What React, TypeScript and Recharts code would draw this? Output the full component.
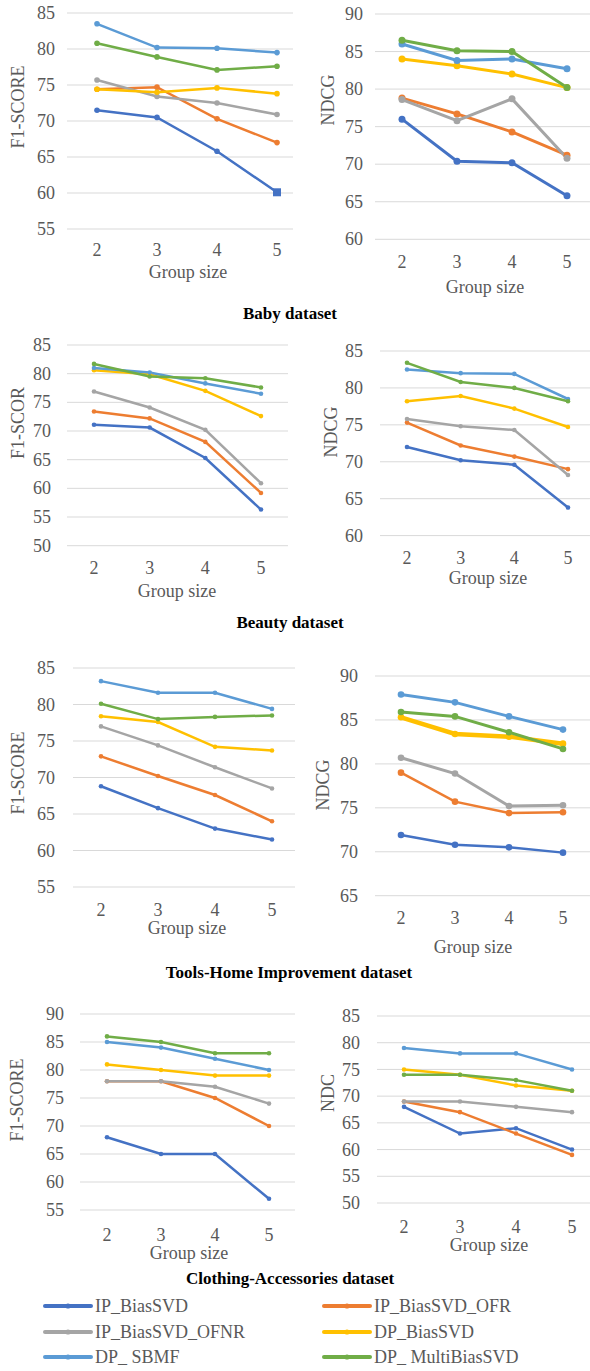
import { LineChart, Line, XAxis, YAxis, CartesianGrid } from "recharts";

const groupSizes = ["2", "3", "4", "5"];
const seriesNames = ["IP_BiasSVD", "IP_BiasSVD_OFR", "IP_BiasSVD_OFNR", "DP_BiasSVD", "DP_ SBMF", "DP_ MultiBiasSVD"];
const colors = ["#4472C4", "#ED7D31", "#A5A5A5", "#FFC000", "#5B9BD5", "#70AD47"];

// rows follow seriesNames order, columns follow groupSizes
const babyF1 = [
  [71.5, 70.5, 65.8, 60.1],
  [74.4, 74.7, 70.3, 67.0],
  [75.7, 73.4, 72.5, 70.9],
  [74.4, 74.0, 74.6, 73.8],
  [83.5, 80.2, 80.1, 79.5],
  [80.8, 78.9, 77.1, 77.6],
];
const babyNdcg = [
  [76.0, 70.4, 70.2, 65.8],
  [78.8, 76.7, 74.3, 71.2],
  [78.6, 75.8, 78.7, 70.8],
  [84.0, 83.1, 82.0, 80.2],
  [86.0, 83.8, 84.0, 82.7],
  [86.5, 85.1, 85.0, 80.2],
];
const beautyF1 = [
  [71.1, 70.6, 65.3, 56.3],
  [73.4, 72.2, 68.1, 59.2],
  [76.9, 74.1, 70.2, 60.9],
  [80.6, 79.9, 77.0, 72.6],
  [81.0, 80.2, 78.3, 76.5],
  [81.7, 79.5, 79.2, 77.6],
];
const beautyNdcg = [
  [72.0, 70.2, 69.6, 63.8],
  [75.3, 72.2, 70.7, 69.0],
  [75.8, 74.8, 74.3, 68.2],
  [78.2, 78.9, 77.2, 74.7],
  [82.5, 82.0, 81.9, 78.5],
  [83.4, 80.8, 80.0, 78.2],
];
const toolsF1 = [
  [68.8, 65.8, 63.0, 61.5],
  [72.9, 70.2, 67.6, 64.0],
  [77.0, 74.4, 71.4, 68.5],
  [78.4, 77.6, 74.2, 73.7],
  [83.2, 81.6, 81.6, 79.4],
  [80.1, 78.0, 78.3, 78.5],
];
const toolsNdcg = [
  [71.9, 70.8, 70.5, 69.9],
  [79.0, 75.7, 74.4, 74.5],
  [80.7, 78.9, 75.2, 75.3],
  [85.3, 83.4, 83.1, 82.3],
  [87.9, 87.0, 85.4, 83.9],
  [85.9, 85.4, 83.6, 81.7],
];
const clothingF1 = [
  [68, 65, 65, 57],
  [78, 78, 75, 70],
  [78, 78, 77, 74],
  [81, 80, 79, 79],
  [85, 84, 82, 80],
  [86, 85, 83, 83],
];
const clothingNdcg = [
  [68, 63, 64, 60],
  [69, 67, 63, 59],
  [69, 69, 68, 67],
  [75, 74, 72, 71],
  [79, 78, 78, 75],
  [74, 74, 73, 71],
];

const ticks55to85 = [55, 60, 65, 70, 75, 80, 85];
const ticks60to90 = [60, 65, 70, 75, 80, 85, 90];
const ticks50to85 = [50, 55, 60, 65, 70, 75, 80, 85];
const ticks60to85 = [60, 65, 70, 75, 80, 85];
const ticks65to90 = [65, 70, 75, 80, 85, 90];
const ticks55to90 = [55, 60, 65, 70, 75, 80, 85, 90];

const datasetTitles = ["Baby dataset", "Beauty dataset", "Tools-Home Improvement dataset", "Clothing-Accessories dataset"];

const FONT = '"Liberation Serif", "Times New Roman", serif';
const GRAY = "#595959";

type PanelCfg = {
  values: number[][];
  ticks: number[];
  yLabel: string;
  col: number;
  left: number;
  right: number;
  top: number;
  bottom: number;
  padL: number;
  padR: number;
  yGap: number;
  xGap: number;
  labelX: number;
  labelY: number;
  groupX: number;
  groupY: number;
  dotR: number;
  lw: number;
  widths?: number[];
  squareAt?: number;
};

const panels: PanelCfg[] = [
  { values: babyF1, ticks: ticks55to85, yLabel: "F1-SCORE", col: 0, left: 67, right: 293, top: 13.3, bottom: 229.3, padL: 30, padR: 16, yGap: 12, xGap: 14, labelX: 18, labelY: 107, groupX: 188, groupY: 272, dotR: 2.8, lw: 2.5, squareAt: 3 },
  { values: babyNdcg, ticks: ticks60to90, yLabel: "NDCG", col: 1, left: 375, right: 590, top: 14, bottom: 239.3, padL: 27, padR: 23, yGap: 12, xGap: 16, labelX: 328, labelY: 100, groupX: 485, groupY: 287, dotR: 3.5, lw: 3 },
  { values: beautyF1, ticks: ticks50to85, yLabel: "F1-SCOR", col: 0, left: 67, right: 288, top: 345, bottom: 545.7, padL: 27, padR: 27, yGap: 16, xGap: 15.5, labelX: 18, labelY: 423, groupX: 177, groupY: 591, dotR: 2.3, lw: 2.5 },
  { values: beautyNdcg, ticks: ticks60to85, yLabel: "NDCG", col: 1, left: 380, right: 590, top: 350.7, bottom: 535.3, padL: 27, padR: 22, yGap: 17, xGap: 16, labelX: 331, labelY: 432, groupX: 488, groupY: 578, dotR: 2.3, lw: 2.5 },
  { values: toolsF1, ticks: ticks55to85, yLabel: "F1-SCORE", col: 0, left: 73, right: 295, top: 667.7, bottom: 886.7, padL: 28, padR: 23, yGap: 18, xGap: 16.5, labelX: 18, labelY: 773, groupX: 187, groupY: 928, dotR: 2.3, lw: 2.5 },
  { values: toolsNdcg, ticks: ticks65to90, yLabel: "NDCG", col: 1, left: 375, right: 590, top: 676, bottom: 895.7, padL: 26, padR: 27, yGap: 17, xGap: 15.5, labelX: 323, labelY: 785, groupX: 473, groupY: 947, dotR: 3.3, lw: 2.5, widths: [2.5, 2.5, 3, 4.5, 3, 3] },
  { values: clothingF1, ticks: ticks55to90, yLabel: "F1-SCORE", col: 0, left: 80, right: 295, top: 1014, bottom: 1210, padL: 27, padR: 26, yGap: 16, xGap: 18, labelX: 17, labelY: 1100, groupX: 189, groupY: 1253, dotR: 2.3, lw: 2.5 },
  { values: clothingNdcg, ticks: ticks50to85, yLabel: "NDC", col: 1, left: 377, right: 590, top: 1015.7, bottom: 1202.7, padL: 27, padR: 18, yGap: 17, xGap: 17.5, labelX: 328, labelY: 1093, groupX: 489, groupY: 1245, dotR: 2.3, lw: 2.5 },
];

const titlePos = [
  { x: 290, y: 313 },
  { x: 290, y: 622 },
  { x: 289, y: 972 },
  { x: 290, y: 1278 },
];

function Txt({ x, y, children, rotate, bold }: { x: number; y: number; children: any; rotate?: boolean; bold?: boolean }) {
  return (
    <div
      style={{
        position: "absolute",
        left: x,
        top: y,
        transform: `translate(-50%, -50%)${rotate ? " rotate(-90deg)" : ""}`,
        whiteSpace: "nowrap",
        fontFamily: FONT,
        fontSize: bold ? 17 : 18,
        fontWeight: bold ? 700 : 400,
        color: bold ? "#000" : GRAY,
        lineHeight: 1,
      }}
    >
      {children}
    </div>
  );
}

// serif tick labels, drawn at the positions recharts hands over
const XTick = (props: any) => (
  <text x={props.x} y={props.y} dy="0.71em" textAnchor="middle" fill={GRAY} fontSize={18} fontFamily={FONT} style={{ fontFamily: FONT }}>
    {props.payload.value}
  </text>
);
const YTick = (props: any) => (
  <text x={props.x} y={props.y} dy="0.34em" textAnchor="end" fill={GRAY} fontSize={18} fontFamily={FONT} style={{ fontFamily: FONT }}>
    {props.payload.value}
  </text>
);

const makeDot = (color: string, r: number, squareAt?: number) => (props: any) => {
  const { cx, cy, index } = props;
  if (index === squareAt) {
    return <rect key={`d${index}`} x={cx - 4} y={cy - 4} width={8} height={8} fill={color} />;
  }
  return <circle key={`d${index}`} cx={cx} cy={cy} r={r} fill={color} stroke="none" />;
};

function Panel({ p }: { p: PanelCfg }) {
  const chartLeft = p.col === 0 ? 0 : 295;
  const xH = 40;
  const w = p.right - chartLeft;
  const h = 10 + (p.bottom - p.top) + xH;
  const data = groupSizes.map((g, i) => {
    const row: any = { g };
    p.values.forEach((s, k) => (row[`s${k}`] = s[i]));
    return row;
  });
  return (
    <div style={{ position: "absolute", left: chartLeft, top: p.top - 10 }}>
      <LineChart width={w} height={h} data={data} margin={{ top: 10, right: 0, bottom: 0, left: 0 }}>
        <CartesianGrid vertical={false} stroke="#D9D9D9" strokeWidth={1} />
        <XAxis
          dataKey="g"
          axisLine={false}
          tickLine={false}
          tickSize={0}
          tickMargin={p.xGap}
          padding={{ left: p.padL, right: p.padR }}
          height={xH}
          interval={0}
          tick={XTick}
        />
        <YAxis
          type="number"
          domain={[p.ticks[0], p.ticks[p.ticks.length - 1]]}
          ticks={p.ticks}
          interval={0}
          width={p.left - chartLeft}
          axisLine={false}
          tickLine={false}
          tickSize={0}
          tickMargin={p.yGap}
          tick={YTick}
        />
        {p.values.map((_, k) => (
          <Line
            key={k}
            type="linear"
            dataKey={`s${k}`}
            stroke={colors[k]}
            strokeWidth={p.widths ? p.widths[k] : p.lw}
            dot={makeDot(colors[k], p.dotR, k === 0 ? p.squareAt : undefined)}
            activeDot={false}
            isAnimationActive={false}
          />
        ))}
      </LineChart>
    </div>
  );
}

const legendRows = [1306, 1332, 1357];
const legendCols = [
  { lineX: 43, textX: 95 },
  { lineX: 322, textX: 374 },
];

function LegendItem({ idx }: { idx: number }) {
  const c = legendCols[idx % 2];
  const y = legendRows[Math.floor(idx / 2)];
  return (
    <div style={{ position: "absolute", left: c.lineX, top: y - 10, height: 20, display: "flex", alignItems: "center" }}>
      <svg width={50} height={10} style={{ display: "block" }}>
        <line x1={2} y1={5} x2={48} y2={5} stroke={colors[idx]} strokeWidth={4} strokeLinecap="round" />
        <circle cx={25} cy={5} r={2.6} fill={colors[idx]} />
      </svg>
      <span style={{ marginLeft: c.textX - c.lineX - 50, fontFamily: FONT, fontSize: 18, color: GRAY, lineHeight: 1, whiteSpace: "nowrap" }}>
        {seriesNames[idx]}
      </span>
    </div>
  );
}

export default function App() {
  return (
    <div style={{ position: "absolute", left: 0, top: 0, width: 590, height: 1371, background: "#fff", overflow: "hidden", fontFamily: FONT }}>
      {panels.map((p, i) => (
        <Panel key={i} p={p} />
      ))}
      {panels.map((p, i) => (
        <Txt key={`yl${i}`} x={p.labelX} y={p.labelY} rotate>
          {p.yLabel}
        </Txt>
      ))}
      {panels.map((p, i) => (
        <Txt key={`gs${i}`} x={p.groupX} y={p.groupY}>
          Group size
        </Txt>
      ))}
      {datasetTitles.map((t, i) => (
        <Txt key={`t${i}`} x={titlePos[i].x} y={titlePos[i].y} bold>
          {t}
        </Txt>
      ))}
      {seriesNames.map((_, i) => (
        <LegendItem key={`lg${i}`} idx={i} />
      ))}
    </div>
  );
}
